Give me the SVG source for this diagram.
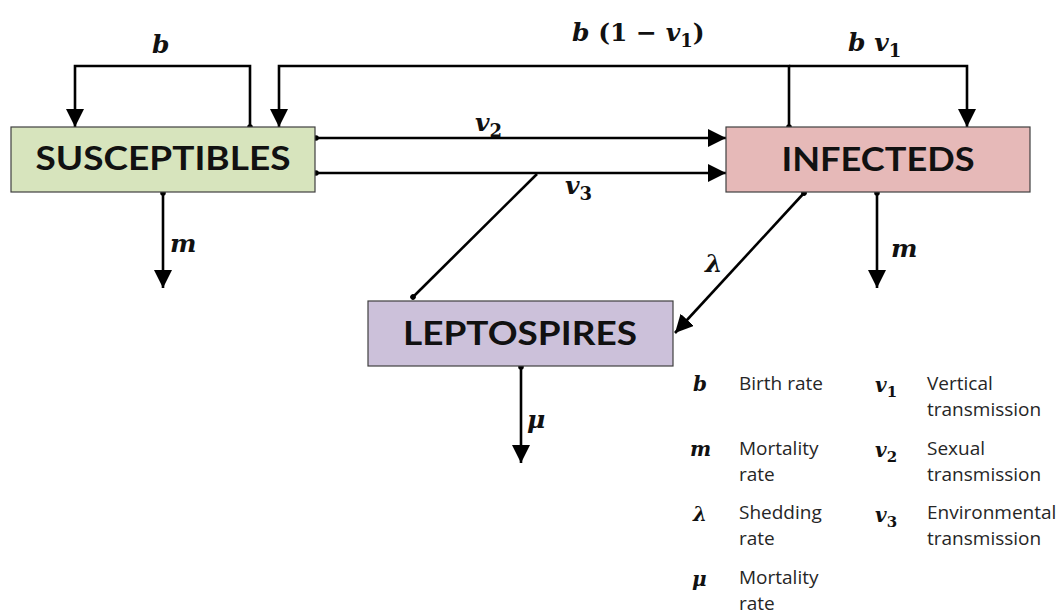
<svg xmlns="http://www.w3.org/2000/svg" width="1061" height="614" viewBox="0 0 1061 614">
<style>
.box{stroke:#404040;stroke-width:1.2}
.lbl{font-family:Lato,"Open Sans","Liberation Sans",sans-serif;font-weight:bold;font-size:33px;fill:#111;text-anchor:middle}
.con{fill:none;stroke:#000;stroke-width:2.6}
.m{font-family:"DejaVu Serif","Liberation Serif",serif;font-weight:bold;font-size:25px;fill:#111}
.mi{font-style:italic}
.sub{font-size:18px;font-style:normal}
.lg{font-family:"Open Sans","Liberation Sans",sans-serif;font-size:19px;fill:#262626}
.lm{font-family:"DejaVu Serif","Liberation Serif",serif;font-weight:bold;font-style:italic;font-size:20px;fill:#111}
.ls{font-size:15px;font-style:normal}
</style>
<defs>
<marker id="arr" markerUnits="userSpaceOnUse" markerWidth="20" markerHeight="20" refX="18" refY="9" orient="auto">
<path d="M0,0 L18,9 L0,18 z" fill="#000"/>
</marker>
<marker id="dot" markerUnits="userSpaceOnUse" markerWidth="8" markerHeight="8" refX="4" refY="4" orient="auto">
<circle cx="4" cy="4" r="2.8" fill="#000"/>
</marker>
</defs>
<rect width="1061" height="614" fill="#fff"/>
<g id="connectors">
<path class="con" d="M250,127 V66 H75 V127" marker-start="url(#dot)" marker-end="url(#arr)"/>
<path class="con" d="M789,127 V66 H279 V127" marker-start="url(#dot)" marker-end="url(#arr)"/>
<path class="con" d="M789,66 H967 V127" marker-end="url(#arr)"/>
<path class="con" d="M316,138 H726" marker-start="url(#dot)" marker-end="url(#arr)"/>
<path class="con" d="M316,173 H726" marker-start="url(#dot)" marker-end="url(#arr)"/>
<path class="con" d="M537,174 L413,297" marker-end="url(#dot)"/>
<path class="con" d="M804,193 L675,333" marker-start="url(#dot)" marker-end="url(#arr)"/>
<path class="con" d="M163,193 V288" marker-start="url(#dot)" marker-end="url(#arr)"/>
<path class="con" d="M877,193 V288" marker-start="url(#dot)" marker-end="url(#arr)"/>
<path class="con" d="M521,367 V463" marker-start="url(#dot)" marker-end="url(#arr)"/>
</g>
<g id="edge-labels">
<text class="m mi" x="152" y="53">b</text>
<text class="m" x="572" y="41"><tspan class="mi">b</tspan> (1 − <tspan class="mi">v</tspan><tspan class="sub" dy="6">1</tspan><tspan dy="-6">)</tspan></text>
<text class="m" x="848" y="51"><tspan class="mi">b v</tspan><tspan class="sub" dy="6">1</tspan></text>
<text class="m" x="475" y="131"><tspan class="mi">v</tspan><tspan class="sub" dy="6">2</tspan></text>
<text class="m" x="565" y="194"><tspan class="mi">v</tspan><tspan class="sub" dy="6">3</tspan></text>
<text class="m mi" x="170" y="252">m</text>
<text class="m mi" x="891" y="257">m</text>
<text class="m mi" x="705" y="272">λ</text>
<text class="m mi" x="527" y="428">μ</text>
</g>
<g id="susceptibles">
<rect class="box" x="11" y="127" width="304" height="65" fill="#d7e4bd"/>
<text class="lbl" x="163" y="170" textLength="255" lengthAdjust="spacingAndGlyphs">SUSCEPTIBLES</text>
</g>
<g id="infecteds">
<rect class="box" x="726" y="127" width="304" height="65" fill="#e6b9b8"/>
<text class="lbl" x="878" y="171" textLength="193" lengthAdjust="spacingAndGlyphs">INFECTEDS</text>
</g>
<g id="leptospires">
<rect class="box" x="368" y="301" width="305" height="65" fill="#ccc1da"/>
<text class="lbl" x="520" y="345" textLength="234" lengthAdjust="spacingAndGlyphs">LEPTOSPIRES</text>
</g>
<g id="legend">
<text class="lm" x="693" y="391">b</text>
<text class="lg" x="739" y="390">Birth rate</text>
<text class="lm" x="690" y="456">m</text>
<text class="lg" x="739" y="455">Mortality</text>
<text class="lg" x="739" y="481">rate</text>
<text class="lm" x="693" y="521">λ</text>
<text class="lg" x="739" y="519">Shedding</text>
<text class="lg" x="739" y="545">rate</text>
<text class="lm" x="692" y="586">μ</text>
<text class="lg" x="739" y="584">Mortality</text>
<text class="lg" x="739" y="610">rate</text>
<text class="lm" x="875" y="392">v<tspan class="ls" dy="5">1</tspan></text>
<text class="lg" x="927" y="390">Vertical</text>
<text class="lg" x="927" y="416">transmission</text>
<text class="lm" x="875" y="457">v<tspan class="ls" dy="5">2</tspan></text>
<text class="lg" x="927" y="455">Sexual</text>
<text class="lg" x="927" y="481">transmission</text>
<text class="lm" x="875" y="522">v<tspan class="ls" dy="5">3</tspan></text>
<text class="lg" x="927" y="519">Environmental</text>
<text class="lg" x="927" y="545">transmission</text>
</g>
</svg>
